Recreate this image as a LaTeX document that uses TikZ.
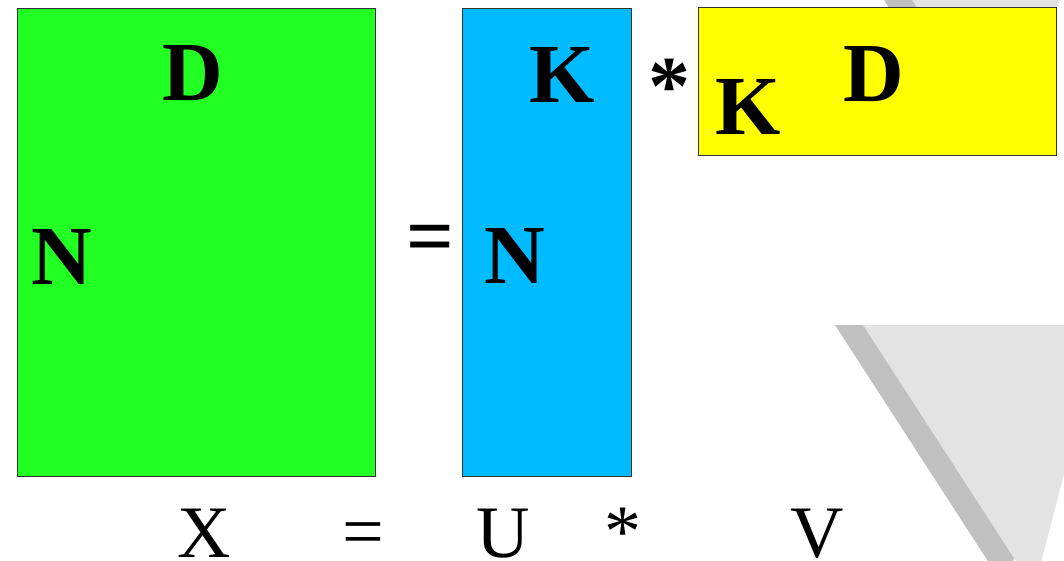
\documentclass[tikz,border=0pt]{standalone}
\usepackage{fontspec}
\setmainfont{Liberation Serif}
\usepackage{tikz}
\usetikzlibrary{positioning}
\definecolor{matgreen}{HTML}{22FF22}
\definecolor{matblue}{HTML}{00BBFF}
\definecolor{matyellow}{HTML}{FFFF00}
\definecolor{triLight}{HTML}{E3E3E3}
\definecolor{triDark}{HTML}{C0C0C0}
\newcommand\BigLbl{\bfseries\fontsize{84}{84}\selectfont}
\newcommand\FootLbl{\fontsize{74}{74}\selectfont}

\begin{document}
\begin{tikzpicture}[x=1pt, y=-1pt,
    matbox/.style = {draw=black!80, line width=0.8pt, inner sep=0pt},
    dimlbl/.style = {font=\BigLbl, anchor=base, inner sep=0pt},
    oplbl/.style  = {font=\BigLbl, anchor=center, inner sep=0pt},
    footlbl/.style = {font=\FootLbl, anchor=base, inner sep=0pt}]
                \useasboundingbox (0,0) rectangle (1064,560);
                % gray triangles in the background
                \fill[triDark]  (845,-60) -- (1056,-60) -- (975,140) -- cycle;
                \fill[triLight] (873,-60) -- (1084,-60) -- (1003,140) -- cycle;
                \fill[triDark]  (835,325) -- (1075,325) -- (1006,589) -- cycle;
                \fill[triLight] (863,325) -- (1103,325) -- (1034,589) -- cycle;
                % the three matrices
                \node[matbox, fill=matgreen, minimum width=358, minimum height=468] (X) at (196,242) {};
                \node[matbox, fill=matblue, minimum width=169, minimum height=468] (U) at (546.5,242) {};
                \node[matbox, fill=matyellow, minimum width=358, minimum height=148] (V) at (877,81.5) {};
                % dimensions
                \node[dimlbl] (XD) at (193,100) {D};
                \node[dimlbl] (XN) at (62,284) {N};
                \node[dimlbl] (UK) at (562,102) {K};
                \node[dimlbl] (UN) at (514.5,283) {N};
                \node[dimlbl] (VK) at (748,134) {K};
                \node[dimlbl] (VD) at (873.5,101) {D};
                \node[oplbl] (eqTop) at (430,244.5) {=};
                \node[oplbl] (starTop) at (669,87) {*};
                % names below
                \foreach \t/\x [count=\i] in {X/204, U/503, V/817}{
                  \node[footlbl] (name\i) at (\x,557.5) {\t};
                }
                \node[font=\FootLbl, anchor=center, inner sep=0pt] (eqFoot) at (363,540) {=};
                \node[font=\FootLbl, anchor=center, inner sep=0pt] (starFoot) at (623,532) {*};
            \end{tikzpicture}
\end{document}
